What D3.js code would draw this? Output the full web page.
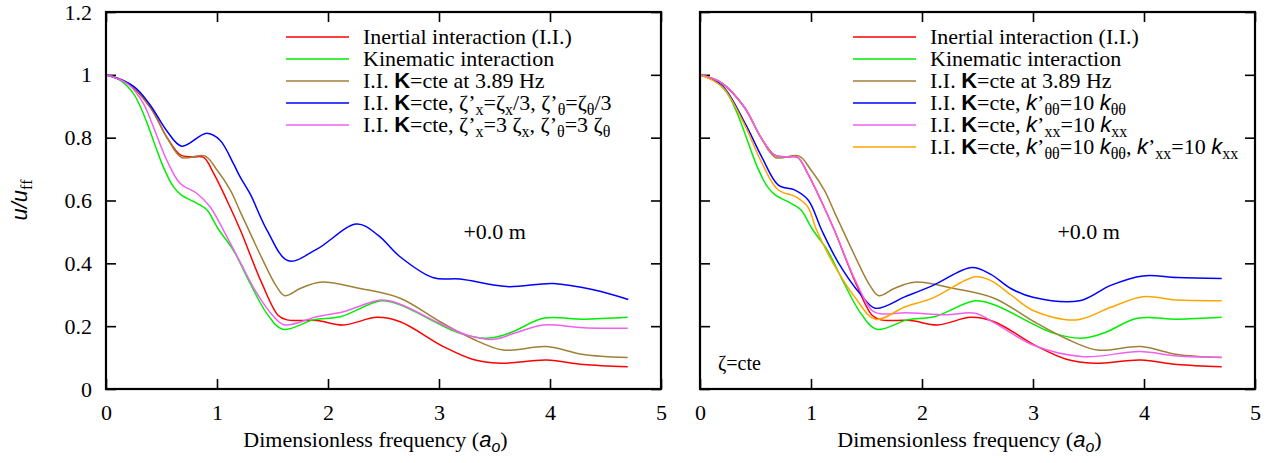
<!DOCTYPE html>
<html>
<head>
<meta charset="utf-8">
<script src="https://cdn.jsdelivr.net/npm/d3@7"></script>
<style>
body { margin: 0; background: #fff; }
</style>
</head>
<body>
<svg id="chart" width="1277" height="463"></svg>
<script>
// tick values
var xTicks = [0, 1, 2, 3, 4, 5];
var yTicks = [0, 0.2, 0.4, 0.6, 0.8, 1, 1.2];

// curves, [a_o, u/u_ff]
var redPts = [[0,1.0],[0.2,0.972],[0.4,0.896],[0.55,0.80],[0.67,0.745],[0.78,0.739],[0.88,0.737],[0.97,0.686],[1.09,0.60],[1.21,0.506],[1.4,0.34],[1.55,0.235],[1.63,0.220],[1.9,0.218],[2.14,0.204],[2.44,0.228],[2.65,0.214],[3.04,0.135],[3.3,0.095],[3.55,0.082],[3.97,0.092],[4.3,0.078],[4.7,0.071]];
var greenPts = [[0,1.0],[0.126,0.983],[0.246,0.941],[0.336,0.877],[0.426,0.792],[0.516,0.707],[0.607,0.644],[0.68,0.617],[0.82,0.591],[0.91,0.570],[1.01,0.51],[1.15,0.44],[1.3,0.335],[1.45,0.24],[1.59,0.190],[1.87,0.220],[2.11,0.230],[2.48,0.281],[2.65,0.268],[3.19,0.177],[3.45,0.162],[3.65,0.18],[3.94,0.225],[4.3,0.222],[4.7,0.228]];
var brownPts = [[0,1.0],[0.2,0.974],[0.4,0.898],[0.55,0.80],[0.68,0.737],[0.89,0.742],[1.0,0.697],[1.12,0.633],[1.21,0.564],[1.4,0.42],[1.53,0.33],[1.61,0.297],[1.75,0.32],[1.93,0.340],[2.29,0.320],[2.65,0.289],[3.01,0.214],[3.3,0.16],[3.58,0.124],[3.97,0.135],[4.3,0.11],[4.7,0.100]];
var blueLeftPts = [[0,1.0],[0.246,0.964],[0.396,0.905],[0.547,0.822],[0.682,0.773],[0.907,0.814],[1.027,0.792],[1.147,0.718],[1.207,0.676],[1.3,0.62],[1.45,0.506],[1.643,0.408],[1.9,0.445],[2.258,0.525],[2.45,0.49],[2.649,0.421],[2.95,0.354],[3.19,0.350],[3.61,0.326],[4.03,0.336],[4.4,0.315],[4.705,0.285]];
var violetLeftPts = [[0,1.0],[0.2,0.970],[0.336,0.909],[0.426,0.835],[0.547,0.729],[0.667,0.655],[0.817,0.623],[0.937,0.580],[1.057,0.506],[1.2,0.41],[1.35,0.31],[1.5,0.235],[1.61,0.204],[1.90,0.230],[2.14,0.246],[2.48,0.283],[2.65,0.27],[3.0,0.21],[3.25,0.172],[3.49,0.158],[3.7,0.18],[3.94,0.204],[4.3,0.195],[4.7,0.193]];
var blueRightPts = [[0,1.0],[0.2,0.965],[0.405,0.846],[0.556,0.739],[0.706,0.649],[0.856,0.633],[0.976,0.601],[1.096,0.506],[1.25,0.40],[1.45,0.30],[1.58,0.257],[1.85,0.294],[2.1,0.33],[2.45,0.387],[2.62,0.365],[2.8,0.32],[3.0,0.292],[3.42,0.281],[3.7,0.33],[3.99,0.360],[4.3,0.355],[4.7,0.352]];
var violetRightPts = [[0,1.0],[0.2,0.973],[0.4,0.897],[0.55,0.80],[0.67,0.745],[0.78,0.739],[0.88,0.737],[0.97,0.686],[1.09,0.60],[1.21,0.506],[1.4,0.345],[1.55,0.25],[1.64,0.239],[1.85,0.243],[2.21,0.236],[2.48,0.241],[2.66,0.209],[3.0,0.140],[3.45,0.103],[3.96,0.119],[4.3,0.105],[4.7,0.101]];
var orangePts = [[0,1.0],[0.2,0.962],[0.4,0.842],[0.55,0.725],[0.7,0.635],[0.86,0.612],[0.97,0.580],[1.05,0.506],[1.2,0.40],[1.4,0.29],[1.58,0.222],[1.85,0.262],[2.1,0.29],[2.48,0.357],[2.62,0.345],[2.8,0.30],[3.0,0.250],[3.39,0.220],[3.7,0.26],[3.99,0.294],[4.3,0.283],[4.7,0.281]];

// legend labels: [text, kind] n=normal, b=bold sans, i=italic sans, s=subscript, si=italic subscript
var leftLabels = [
    [['Inertial interaction (I.I.)', 'n']],
    [['Kinematic interaction', 'n']],
    [['I.I. ', 'n'], ['K', 'b'], ['=cte at 3.89 Hz', 'n']],
    [['I.I. ', 'n'], ['K', 'b'], ['=cte, ζ’', 'n'], ['x', 's'], ['=ζ', 'n'], ['x', 's'], ['/3, ζ’', 'n'], ['θ', 's'], ['=ζ', 'n'], ['θ', 's'], ['/3', 'n']],
    [['I.I. ', 'n'], ['K', 'b'], ['=cte, ζ’', 'n'], ['x', 's'], ['=3 ζ', 'n'], ['x', 's'], [', ζ’', 'n'], ['θ', 's'], ['=3 ζ', 'n'], ['θ', 's']]
];
var rightLabels = [
    [['Inertial interaction (I.I.)', 'n']],
    [['Kinematic interaction', 'n']],
    [['I.I. ', 'n'], ['K', 'b'], ['=cte at 3.89 Hz', 'n']],
    [['I.I. ', 'n'], ['K', 'b'], ['=cte, ', 'n'], ['k', 'i'], ['’', 'n'], ['θθ', 's'], ['=10 ', 'n'], ['k', 'i'], ['θθ', 's']],
    [['I.I. ', 'n'], ['K', 'b'], ['=cte, ', 'n'], ['k', 'i'], ['’', 'n'], ['xx', 's'], ['=10 ', 'n'], ['k', 'i'], ['xx', 's']],
    [['I.I. ', 'n'], ['K', 'b'], ['=cte, ', 'n'], ['k', 'i'], ['’', 'n'], ['θθ', 's'], ['=10 ', 'n'], ['k', 'i'], ['θθ', 's'], [', ', 'n'], ['k', 'i'], ['’', 'n'], ['xx', 's'], ['=10 ', 'n'], ['k', 'i'], ['xx', 's']]
];

var RED = '#ff0000', GREEN = '#00ee00', BROWN = '#a08038', BLUE = '#0000ff', VIOLET = '#f060f0', ORANGE = '#ffa500';
var SERIF = '"Liberation Serif", "DejaVu Serif", serif';
var SANS = '"Liberation Sans", Arial, sans-serif';

var panels = [
    { left: 106, right: 661, yLabels: true, legendX: 286,
      series: [redPts, greenPts, brownPts, blueLeftPts, violetLeftPts],
      colors: [RED, GREEN, BROWN, BLUE, VIOLET], labels: leftLabels },
    { left: 700, right: 1255, yLabels: false, legendX: 853,
      series: [redPts, greenPts, brownPts, blueRightPts, violetRightPts, orangePts],
      colors: [RED, GREEN, BROWN, BLUE, VIOLET, ORANGE], labels: rightLabels }
];

var svg = d3.select('#chart');
var yTop = 12, yBot = 389;

function serifText(sel, size) {
    return sel.append('text').style('font-family', SERIF).style('font-size', size + 'px').attr('fill', '#000');
}

function rich(sel, parts) {
    var off = 0;
    parts.forEach(function (p) {
        var t = sel.append('tspan').text(p[0]);
        var sub = (p[1] == 's' || p[1] == 'si');
        var want = sub ? 5 : 0;
        if (want != off) { t.attr('dy', want - off); off = want; }
        if (p[1] == 'b') t.style('font-family', SANS).style('font-weight', 'bold');
        if (p[1] == 'i' || p[1] == 'si') t.style('font-family', SANS).style('font-style', 'italic');
        if (sub) t.style('font-size', '16px');
    });
}

panels.forEach(function (p) {
    var x = d3.scaleLinear().domain([0, 5]).range([p.left, p.right]);
    var y = d3.scaleLinear().domain([0, 1.2]).range([yBot, yTop]);
    var g = svg.append('g');

    // axes, ticks pointing inwards on all four sides
    var axB = g.append('g').attr('transform', 'translate(0,' + yBot + ')')
        .call(d3.axisBottom(x).tickValues(xTicks).tickSize(-10).tickSizeOuter(0).tickPadding(15).tickFormat(d3.format('d')));
    var axT = g.append('g').attr('transform', 'translate(0,' + yTop + ')')
        .call(d3.axisTop(x).tickValues(xTicks).tickSize(-10).tickSizeOuter(0).tickFormat(''));
    var axL = g.append('g').attr('transform', 'translate(' + p.left + ',0)')
        .call(d3.axisLeft(y).tickValues(yTicks).tickSize(-10).tickSizeOuter(0).tickPadding(14)
            .tickFormat(p.yLabels ? d3.format('~g') : ''));
    var axR = g.append('g').attr('transform', 'translate(' + p.right + ',0)')
        .call(d3.axisRight(y).tickValues(yTicks).tickSize(-10).tickSizeOuter(0).tickFormat(''));
    [axB, axT, axL, axR].forEach(function (a) {
        a.select('.domain').remove();
        a.selectAll('line').attr('stroke', '#000').attr('stroke-width', 1.6);
        a.selectAll('text').style('font-family', SERIF).style('font-size', '22px').attr('fill', '#000');
    });

    // curves
    var line = d3.line()
        .x(function (d) { return x(d[0]); })
        .y(function (d) { return y(d[1]); })
        .curve(d3.curveCatmullRom.alpha(0.5));
    p.series.forEach(function (s, i) {
        g.append('path').datum(s)
            .attr('d', line)
            .attr('fill', 'none')
            .attr('stroke', p.colors[i])
            .attr('stroke-width', 1.5);
    });

    // frame
    g.append('rect')
        .attr('x', p.left).attr('y', yTop)
        .attr('width', p.right - p.left).attr('height', yBot - yTop)
        .attr('fill', 'none').attr('stroke', '#000').attr('stroke-width', 2.2);

    // legend
    p.labels.forEach(function (lab, i) {
        var ly = 37 + i * 22;
        g.append('line')
            .attr('x1', p.legendX).attr('x2', p.legendX + 63)
            .attr('y1', ly).attr('y2', ly)
            .attr('stroke', p.colors[i]).attr('stroke-width', 1.5);
        var t = serifText(g, 22).attr('x', p.legendX + 77).attr('y', ly + 7);
        rich(t, lab);
    });

    // depth label
    serifText(g, 22).attr('x', x(3.22)).attr('y', 239).text('+0.0 m');

    // x label
    var xl = serifText(g, 22)
        .attr('x', (p.left + p.right) / 2 - 8).attr('y', 447)
        .attr('text-anchor', 'middle');
    rich(xl, [['Dimensionless frequency (', 'n'], ['a', 'i'], ['o', 'si'], [')', 'n']]);
});

// y label
var yl = serifText(svg, 22)
    .attr('transform', 'translate(27,200) rotate(-90)')
    .attr('text-anchor', 'middle');
rich(yl, [['u/u', 'i'], ['ff', 's']]);

// note in right panel
serifText(svg, 20).attr('x', 718).attr('y', 370).text('ζ=cte');
</script>
</body>
</html>
